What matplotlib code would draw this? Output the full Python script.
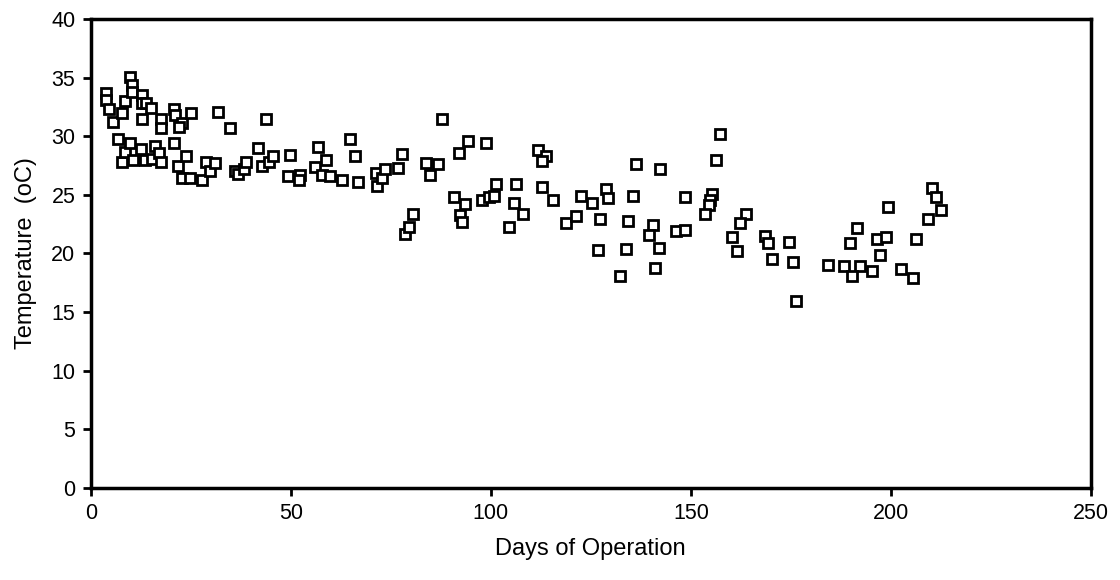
import matplotlib.pyplot as plt

plt.rcParams['font.family'] = ['Liberation Sans', 'DejaVu Sans']

# Temperature readings over the days of operation
days = [3.8, 3.8, 4.6, 5.6, 6.7, 7.9, 8.5, 7.9, 8.5, 9.9,
        10.2, 10.4, 9.9, 10.6, 12.7, 12.7, 13.9, 15.0, 12.7, 12.5,
        13.5, 15.2, 16.0, 17.1, 17.5, 17.5, 17.5, 20.8, 21.0, 20.8,
        22.7, 22.0, 25.0, 21.8, 23.9, 22.9, 24.7, 27.9, 28.8, 29.8,
        31.0, 31.7, 34.8, 36.0, 36.8, 38.2, 38.9, 41.8, 42.9, 43.8,
        44.6, 45.6,
        49.9, 49.3, 52.3, 52.0, 56.8, 56.0, 58.9, 57.7, 59.7, 62.7,
        64.8, 66.0, 66.8, 71.3, 71.6, 72.8, 73.5, 76.8, 77.7, 78.5,
        79.5, 80.6, 87.7, 83.9, 84.8, 86.9, 92.1, 94.3, 90.8, 93.5,
        92.4, 92.7,
        98.9, 111.8, 113.7, 112.7, 97.7, 99.6, 100.8, 101.4, 106.4, 105.8,
        104.6, 108.1, 112.7, 115.6, 118.9, 121.4, 122.5, 125.4, 128.8, 129.3,
        127.4, 126.8, 132.4, 133.8, 134.3, 135.6, 136.3, 142.4, 140.6, 139.6,
        142.1, 141.0,
        157.4, 156.4, 148.5, 155.2, 154.8, 154.6, 153.5, 146.4, 148.5, 163.8,
        162.3, 160.4, 161.6, 168.5, 169.3, 170.4, 174.6, 175.6, 176.4, 184.3,
        188.3, 189.8,
        210.4, 211.4, 212.5, 209.3, 199.3, 191.6, 196.6, 198.8, 206.4, 197.3,
        192.4, 190.3, 195.3, 202.5, 205.6]

temps = [33.7, 33.1, 32.3, 31.2, 29.8, 32.0, 33.0, 27.8, 28.7, 35.1,
         34.4, 33.8, 29.4, 28.0, 33.5, 32.8, 32.8, 32.4, 31.5, 28.9,
         28.0, 28.1, 29.2, 28.6, 31.5, 30.7, 27.8, 32.3, 31.8, 29.4,
         31.1, 30.8, 32.0, 27.5, 28.3, 26.4, 26.4, 26.3, 27.8, 27.0,
         27.7, 32.1, 30.7, 27.0, 26.8, 27.2, 27.8, 29.0, 27.5, 31.5,
         27.8, 28.3,
         28.4, 26.6, 26.7, 26.3, 29.1, 27.4, 28.0, 26.7, 26.6, 26.3,
         29.8, 28.3, 26.1, 26.9, 25.8, 26.4, 27.2, 27.3, 28.5, 21.7,
         22.3, 23.4, 31.5, 27.7, 26.7, 27.6, 28.6, 29.6, 24.8, 24.2,
         23.3, 22.7,
         29.4, 28.8, 28.3, 27.9, 24.6, 24.8, 24.9, 25.9, 25.9, 24.3,
         22.3, 23.4, 25.7, 24.6, 22.6, 23.2, 24.9, 24.3, 25.5, 24.7,
         22.9, 20.3, 18.1, 20.4, 22.8, 24.9, 27.6, 27.2, 22.4, 21.6,
         20.5, 18.8,
         30.2, 28.0, 24.8, 25.1, 24.6, 24.1, 23.4, 21.9, 22.0, 23.4,
         22.6, 21.4, 20.2, 21.5, 20.9, 19.5, 21.0, 19.3, 15.9, 19.0,
         18.9, 20.9,
         25.6, 24.8, 23.7, 22.9, 24.0, 22.2, 21.2, 21.4, 21.2, 19.9,
         18.9, 18.1, 18.5, 18.7, 17.9]

x_ticks = [0, 50, 100, 150, 200, 250]
y_ticks = [0, 5, 10, 15, 20, 25, 30, 35, 40]

fig = plt.figure(figsize=(11.2, 5.8), dpi=100)
ax = fig.add_axes([0.081, 0.159, 0.893, 0.808])

ax.plot(days, temps, linestyle='none', marker='s', markersize=7.5,
        markerfacecolor='white', markeredgecolor='black', markeredgewidth=2)

ax.set_xlim(0, 250)
ax.set_ylim(0, 40)
ax.set_xticks(x_ticks)
ax.set_yticks(y_ticks)
ax.tick_params(direction='out', length=6, width=2, labelsize=15.5, pad=5)

for s in ax.spines.values():
    s.set_linewidth(2.5)

ax.set_xlabel('Days of Operation', fontsize=17, labelpad=10)
ax.set_ylabel('Temperature  (oC)', fontsize=17, labelpad=10)

fig.savefig('out.png', dpi=100)
